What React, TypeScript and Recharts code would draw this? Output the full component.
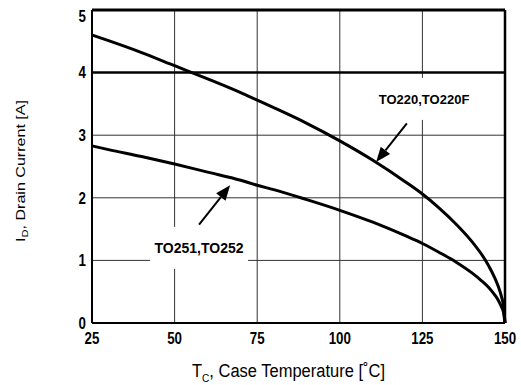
import React from "react";
import {
  LineChart,
  Line,
  XAxis,
  YAxis,
  CartesianGrid,
  ReferenceLine,
  ReferenceDot,
} from "recharts";

// case temperature [°C] and drain current [A]
const temps = [25, 30, 40, 50, 60, 70, 75, 80, 90, 100, 110, 120, 125, 130, 135, 140, 143, 145, 147, 148, 149, 149.5, 150];
const to220 = [4.6, 4.51, 4.32, 4.11, 3.9, 3.68, 3.56, 3.44, 3.19, 2.91, 2.6, 2.25, 2.06, 1.84, 1.59, 1.3, 1.09, 0.92, 0.71, 0.58, 0.41, 0.29, 0];
const to251 = [2.83, 2.77, 2.66, 2.54, 2.41, 2.28, 2.2, 2.13, 1.97, 1.8, 1.61, 1.39, 1.27, 1.13, 0.98, 0.8, 0.67, 0.57, 0.44, 0.36, 0.25, 0.18, 0];

const xTicks = [25, 50, 75, 100, 125, 150];
const yTicks = [0, 1, 2, 3, 4, 5];
const limitCurrent = 4;

// callouts: label text, label centre, arrow tail, arrow tip (data units)
const callouts = [
  { text: "TO220,TO220F", size: 13, at: [125.5, 3.58], from: [120.3, 3.19], to: [111, 2.57] },
  { text: "TO251,TO252", size: 14, at: [57.4, 1.2], from: [57.4, 1.57], to: [66.8, 2.2] },
];

const data = temps.map((t, i) => ({ t, a: to220[i], b: to251[i] }));

const sans = "'Liberation Sans', Arial, sans-serif";

// datasheet uses a narrow face, squeeze Liberation Sans to fit
const TickText = ({ x, y, value, anchor, dy }: any) => {
  const s = String(value);
  return (
    <text
      x={x}
      y={y}
      dy={dy}
      textAnchor={anchor}
      fontFamily={sans}
      fontWeight="bold"
      fontSize={16}
      textLength={s.length * 7.4}
      lengthAdjust="spacingAndGlyphs"
      fill="#000"
    >
      {s}
    </text>
  );
};

const YTick = (props: any) => {
  const { x, y, payload } = props;
  return <TickText x={x} y={y + (payload.value === 5 ? 6 : 0)} dy="0.36em" anchor="end" value={payload.value} />;
};

const XTick = (props: any) => {
  const { x, y, payload } = props;
  return <TickText x={x} y={y} dy="0.8em" anchor="middle" value={payload.value} />;
};

const Arrow = (p: any) => {
  const { x1, y1, x2, y2 } = p;
  const dx = x2 - x1;
  const dy = y2 - y1;
  const len = Math.sqrt(dx * dx + dy * dy);
  const ux = dx / len;
  const uy = dy / len;
  const head = 15;
  const half = 6;
  const bx = x2 - ux * head;
  const by = y2 - uy * head;
  return (
    <g>
      <line x1={x1} y1={y1} x2={bx} y2={by} stroke="#000" strokeWidth={2} />
      <polygon
        points={`${x2},${y2} ${bx - uy * half},${by + ux * half} ${bx + uy * half},${by - ux * half}`}
        fill="#000"
      />
    </g>
  );
};

const makeLabel = (text: string, size: number) => (p: any) => {
  const { cx, cy } = p;
  return (
    <g>
      <rect x={cx - 49} y={cy - 21} width={98} height={42} fill="#fff" />
      <text x={cx} y={cy} dy="0.36em" textAnchor="middle" fontFamily={sans} fontWeight="bold" fontSize={size} fill="#000">
        {text}
      </text>
    </g>
  );
};

export default function App() {
  return (
    <div style={{ position: "absolute", left: 0, top: 0, background: "#fff" }}>
      <LineChart width={521} height={385} data={data} margin={{ top: 10, right: 16, left: 0, bottom: 0 }}>
        <CartesianGrid stroke="#333" strokeWidth={1} verticalValues={[50, 75, 100, 125]} horizontalValues={[1, 2, 3]} />
        <XAxis
          dataKey="t"
          type="number"
          domain={[25, 150]}
          ticks={xTicks}
          height={62}
          tickSize={0}
          tickMargin={8}
          tick={<XTick />}
          axisLine={{ stroke: "#000", strokeWidth: 2 }}
          label={{
            content: () => (
              <text
                x={288.5}
                y={377}
                textAnchor="middle"
                fontFamily={sans}
                fontSize={18}
                textLength={193}
                lengthAdjust="spacingAndGlyphs"
                fill="#000"
              >
                T<tspan fontSize={11} dy={5}>C</tspan>
                <tspan dy={-5}>, Case Temperature [˚C]</tspan>
              </text>
            ),
          }}
        />
        <YAxis
          type="number"
          domain={[0, 5]}
          ticks={yTicks}
          width={92}
          tickSize={0}
          tickMargin={6}
          tick={<YTick />}
          axisLine={{ stroke: "#000", strokeWidth: 2 }}
          label={{
            content: () => (
              <text
                x={25}
                y={171}
                transform="rotate(-90 25 171)"
                textAnchor="middle"
                fontFamily={sans}
                fontSize={13}
                textLength={142}
                lengthAdjust="spacingAndGlyphs"
                fill="#000"
              >
                I<tspan fontSize={9} dy={3}>D</tspan>
                <tspan dy={-3}>, Drain Current [A]</tspan>
              </text>
            ),
          }}
        />
        <ReferenceLine y={5} stroke="#000" strokeWidth={3} />
        <ReferenceLine x={150} stroke="#000" strokeWidth={2.5} />
        <ReferenceLine y={limitCurrent} stroke="#000" strokeWidth={2.5} />
        {callouts.map((c) => (
          <ReferenceDot
            key={c.text}
            x={c.at[0]}
            y={c.at[1]}
            r={1}
            ifOverflow="visible"
            shape={makeLabel(c.text, c.size)}
          />
        ))}
        {callouts.map((c) => (
          <ReferenceLine
            key={c.text + "-arrow"}
            segment={[
              { x: c.from[0], y: c.from[1] },
              { x: c.to[0], y: c.to[1] },
            ]}
            ifOverflow="visible"
            shape={Arrow}
          />
        ))}
        <Line type="monotone" dataKey="a" stroke="#000" strokeWidth={3} dot={false} isAnimationActive={false} />
        <Line type="monotone" dataKey="b" stroke="#000" strokeWidth={3} dot={false} isAnimationActive={false} />
      </LineChart>
    </div>
  );
}
